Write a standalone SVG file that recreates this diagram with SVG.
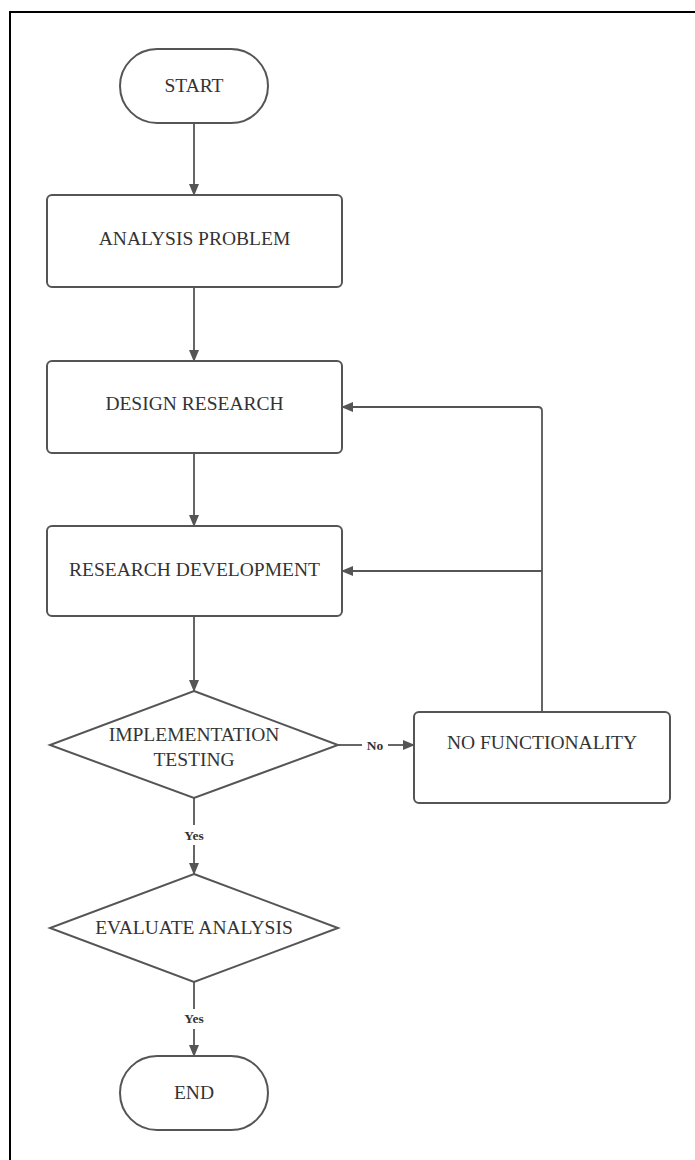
<svg xmlns="http://www.w3.org/2000/svg" width="695" height="1160" viewBox="0 0 695 1160">
<style>
.shape{fill:#fff;stroke:#555;stroke-width:2}
.lbl{font-family:"Liberation Serif",serif;font-size:19.5px;fill:#333;text-anchor:middle}
.edge{fill:none;stroke:#555;stroke-width:1.8}
.el{font-family:"Liberation Serif",serif;font-size:13.5px;font-weight:bold;fill:#333;text-anchor:middle}
</style>
<defs>
<marker id="ah" markerWidth="12" markerHeight="10" refX="11" refY="5" orient="auto" markerUnits="userSpaceOnUse">
<path d="M0,0 L12,5 L0,10 Z" fill="#555"/>
</marker>
</defs>
<rect width="695" height="1160" fill="#fff"/>
<path d="M10,1160 V12 H695" fill="none" stroke="#000" stroke-width="2"/>

<g id="connectors">
<path class="edge" d="M194,123 V195" marker-end="url(#ah)"/>
<path class="edge" d="M194,287 V361" marker-end="url(#ah)"/>
<path class="edge" d="M194,453 V526" marker-end="url(#ah)"/>
<path class="edge" d="M194,616 V691" marker-end="url(#ah)"/>
<path class="edge" d="M542,712 V411 Q542,407 538,407 H342" marker-end="url(#ah)"/>
<path class="edge" d="M542,571 H342" marker-end="url(#ah)"/>
<path class="edge" d="M338,745 H362"/>
<path class="edge" d="M388,745 H414" marker-end="url(#ah)"/>
<text class="el" x="375" y="749.5">No</text>
<path class="edge" d="M194,798 V825"/>
<path class="edge" d="M194,845 V874" marker-end="url(#ah)"/>
<text class="el" x="194" y="839.5">Yes</text>
<path class="edge" d="M194,982 V1009"/>
<path class="edge" d="M194,1029 V1056" marker-end="url(#ah)"/>
<text class="el" x="194" y="1023">Yes</text>
</g>

<g id="start">
<rect class="shape" x="120" y="49" width="148" height="74" rx="37"/>
<text class="lbl" x="194" y="92">START</text>
</g>
<g id="analysis-problem">
<rect class="shape" x="47" y="195" width="295" height="92" rx="5"/>
<text class="lbl" x="194.5" y="245">ANALYSIS PROBLEM</text>
</g>
<g id="design-research">
<rect class="shape" x="47" y="361" width="295" height="92" rx="5"/>
<text class="lbl" x="194.5" y="410">DESIGN RESEARCH</text>
</g>
<g id="research-development">
<rect class="shape" x="47" y="526" width="295" height="90" rx="5"/>
<text class="lbl" x="194.5" y="576">RESEARCH DEVELOPMENT</text>
</g>
<g id="implementation-testing">
<polygon class="shape" points="194,691 338,745 194,798 50,745"/>
<text class="lbl" x="194" y="741">IMPLEMENTATION</text>
<text class="lbl" x="194" y="766">TESTING</text>
</g>
<g id="no-functionality">
<rect class="shape" x="414" y="712" width="256" height="91" rx="5"/>
<text class="lbl" x="542" y="749">NO FUNCTIONALITY</text>
</g>
<g id="evaluate-analysis">
<polygon class="shape" points="194,874 338,928 194,982 50,928"/>
<text class="lbl" x="194" y="934">EVALUATE ANALYSIS</text>
</g>
<g id="end">
<rect class="shape" x="120" y="1056" width="148" height="74" rx="37"/>
<text class="lbl" x="194" y="1099">END</text>
</g>
</svg>
